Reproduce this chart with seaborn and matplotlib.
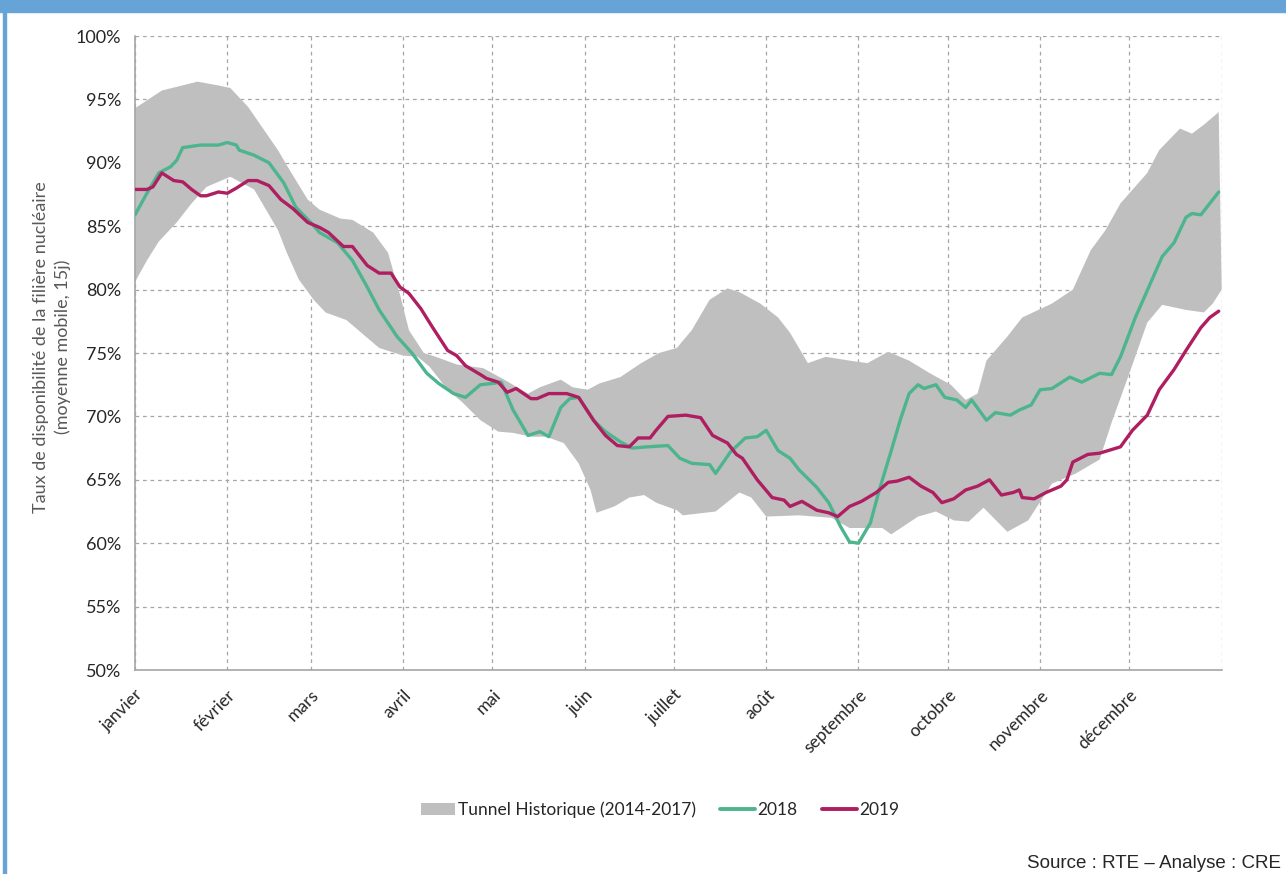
import numpy as np
import pandas as pd
import matplotlib.pyplot as plt
from matplotlib.patches import Patch, Rectangle
from matplotlib.lines import Line2D
import seaborn as sns

# jour de l'année (0 = 1er janvier) et taux de disponibilité (%)
haut_jour = [0, 9, 21, 28, 32, 38, 43, 48, 52, 58, 62, 69, 73, 80, 85, 89, 92, 97, 101, 108,
             117, 124, 132, 136, 143, 147, 152, 156, 163, 170, 176, 182, 187, 193, 199, 203,
             210, 216, 220, 226, 232, 240, 246, 253, 260, 267, 274, 279, 283, 286, 293, 298,
             308, 315, 321, 326, 331, 340, 344, 351, 355, 359, 364]
haut_val = [94.3, 95.7, 96.4, 96.1, 95.9, 94.4, 92.7, 91.0, 89.4, 87.1, 86.3, 85.6, 85.5, 84.5,
            82.9, 79.6, 76.8, 75.0, 74.7, 74.1, 73.8, 72.9, 71.8, 72.3, 72.9, 72.3, 72.1, 72.6,
            73.1, 74.2, 75.0, 75.4, 76.8, 79.2, 80.1, 79.8, 78.9, 77.8, 76.6, 74.2, 74.7, 74.4,
            74.2, 75.1, 74.4, 73.4, 72.5, 71.3, 71.8, 74.4, 76.3, 77.8, 78.9, 80.0, 83.1, 84.7,
            86.8, 89.2, 91.0, 92.7, 92.3, 93.0, 94.0]

bas_jour = [0, 4, 8, 14, 19, 24, 29, 32, 36, 40, 44, 48, 51, 55, 60, 64, 71, 76, 82, 90, 95,
            99, 105, 110, 116, 122, 127, 133, 138, 144, 149, 153, 155, 161, 166, 171, 175, 182,
            184, 195, 203, 207, 212, 223, 234, 240, 251, 254, 263, 269, 275, 280, 285, 293, 300,
            308, 316, 324, 328, 334, 340, 345, 353, 359, 362, 365]
bas_val = [80.6, 82.3, 83.8, 85.3, 86.8, 88.1, 88.6, 88.9, 88.4, 87.9, 86.3, 84.7, 82.9, 80.8,
           79.2, 78.2, 77.6, 76.6, 75.4, 74.8, 74.7, 73.9, 72.1, 71.1, 69.7, 68.8, 68.7, 68.4,
           68.4, 67.9, 66.3, 64.2, 62.4, 62.9, 63.6, 63.8, 63.2, 62.6, 62.2, 62.5, 64.0, 63.6,
           62.1, 62.2, 62.0, 61.2, 61.2, 60.7, 62.1, 62.5, 61.8, 61.7, 62.8, 60.9, 61.8, 64.7,
           65.5, 66.6, 69.5, 73.4, 77.4, 78.8, 78.4, 78.2, 78.9, 80.0]

j2018 = [0, 4, 8, 12, 14, 16, 22, 28, 31, 34, 35, 40, 45, 50, 54, 59, 62, 68, 73, 78, 82, 88,
         93, 98, 102, 107, 111, 116, 120, 123, 127, 132, 136, 139, 143, 146, 149, 154, 158,
         163, 167, 172, 179, 183, 187, 193, 195, 200, 205, 209, 212, 216, 220, 223, 229, 233,
         237, 240, 243, 247, 250, 254, 257, 260, 263, 265, 269, 272, 276, 279, 281, 286, 289,
         294, 297, 301, 304, 308, 314, 318, 324, 328, 331, 336, 342, 345, 349, 353, 355, 358,
         361, 364]
v2018 = [85.9, 87.6, 89.2, 89.7, 90.2, 91.2, 91.4, 91.4, 91.6, 91.4, 91.0, 90.6, 90.0, 88.4,
         86.5, 85.3, 84.5, 83.7, 82.3, 80.2, 78.4, 76.3, 75.0, 73.4, 72.6, 71.8, 71.5, 72.5,
         72.6, 72.7, 70.5, 68.5, 68.8, 68.4, 70.7, 71.4, 71.5, 69.7, 68.8, 68.0, 67.5, 67.6,
         67.7, 66.7, 66.3, 66.2, 65.5, 67.2, 68.3, 68.4, 68.9, 67.3, 66.7, 65.8, 64.4, 63.2,
         61.3, 60.1, 60.0, 61.6, 64.2, 67.3, 69.7, 71.8, 72.5, 72.2, 72.5, 71.5, 71.3, 70.7,
         71.3, 69.7, 70.3, 70.1, 70.5, 70.9, 72.1, 72.2, 73.1, 72.7, 73.4, 73.3, 74.7, 77.8,
         81.0, 82.6, 83.7, 85.7, 86.0, 85.9, 86.8, 87.7]

j2019 = [0, 4, 6, 9, 13, 16, 19, 22, 24, 28, 31, 34, 38, 41, 45, 49, 53, 58, 62, 65, 70, 73,
         78, 82, 86, 89, 92, 96, 100, 105, 108, 111, 116, 118, 122, 125, 128, 133, 135, 139,
         145, 149, 154, 158, 162, 166, 169, 173, 175, 179, 185, 190, 194, 199, 202, 204, 209,
         214, 218, 220, 224, 229, 233, 236, 240, 244, 249, 253, 256, 260, 264, 268, 271, 275,
         279, 283, 287, 291, 295, 297, 298, 302, 306, 311, 313, 315, 320, 324, 331, 335, 340,
         344, 349, 353, 358, 361, 364]
v2019 = [87.9, 87.9, 88.1, 89.2, 88.6, 88.5, 87.9, 87.4, 87.4, 87.7, 87.6, 88.0, 88.6, 88.6,
         88.2, 87.1, 86.4, 85.3, 84.9, 84.5, 83.4, 83.4, 81.9, 81.3, 81.3, 80.2, 79.7, 78.5,
         77.0, 75.2, 74.8, 74.0, 73.3, 73.0, 72.7, 71.9, 72.2, 71.4, 71.4, 71.8, 71.8, 71.5,
         69.7, 68.5, 67.7, 67.6, 68.3, 68.3, 68.9, 70.0, 70.1, 69.9, 68.5, 67.9, 67.0, 66.7,
         65.0, 63.6, 63.4, 62.9, 63.3, 62.6, 62.4, 62.1, 62.9, 63.3, 64.0, 64.8, 64.9, 65.2,
         64.5, 64.0, 63.2, 63.5, 64.2, 64.5, 65.0, 63.8, 64.0, 64.2, 63.6, 63.5, 64.0, 64.5,
         65.0, 66.4, 67.0, 67.1, 67.6, 68.9, 70.1, 72.1, 73.7, 75.2, 77.0, 77.8, 78.3]

mois = ["janvier", "février", "mars", "avril", "mai", "juin", "juillet", "août",
        "septembre", "octobre", "novembre", "décembre"]
debut_mois = [0, 31, 59, 90, 120, 151, 181, 212, 243, 273, 304, 334]

vert = "#4DB58E"
magenta = "#AE1E60"
gris = "#BFBFBF"

df = pd.concat([
    pd.DataFrame({"jour": j2018, "taux": v2018, "annee": "2018"}),
    pd.DataFrame({"jour": j2019, "taux": v2019, "annee": "2019"}),
])

sns.set_style("white")
plt.rcParams["font.family"] = ["Lato", "DejaVu Sans"]

fig = plt.figure(figsize=(12.86, 8.74), dpi=100)
ax = fig.add_axes([0.105, 0.2334, 0.845, 0.7254])

# tunnel historique
ax.fill(np.concatenate([haut_jour, bas_jour[::-1]]),
        np.concatenate([haut_val, bas_val[::-1]]),
        color=gris, lw=0, zorder=1)

sns.lineplot(data=df, x="jour", y="taux", hue="annee",
             palette={"2018": vert, "2019": magenta},
             lw=2.4, legend=False, ax=ax, zorder=3)

ax.set_xlim(0, 365)
ax.set_ylim(50, 100)
ax.set_xticks(debut_mois + [365])
ax.set_xticklabels(mois + [""], rotation=45, ha="right", rotation_mode="anchor",
                   fontsize=12.5, color="#262626")
ax.set_yticks(range(50, 101, 5))
ax.set_yticklabels([f"{v}%" for v in range(50, 101, 5)], fontsize=13, color="#262626")
ax.tick_params(axis="both", length=6, color="#A6A6A6", width=1, pad=4)
ax.tick_params(axis="x", pad=6)

ax.grid(True, ls=(0, (3, 3)), color="#A6A6A6", lw=0.9, zorder=0)
ax.set_axisbelow(True)
for s in ["top", "right"]:
    ax.spines[s].set_visible(False)
for s in ["left", "bottom"]:
    ax.spines[s].set_color("#A6A6A6")
    ax.spines[s].set_linewidth(1.2)

ax.set_xlabel("")
ax.set_ylabel("")
fig.text(52 / 1286, 1 - 347 / 874,
         "Taux de disponibilité de la filière nucléaire\n(moyenne mobile, 15j)",
         rotation=90, ha="center", va="center", fontsize=13, color="#595959",
         linespacing=1.35, multialignment="center")

handles = [Patch(facecolor=gris, edgecolor="none"),
           Line2D([], [], color=vert, lw=2.8),
           Line2D([], [], color=magenta, lw=2.8)]
fig.legend(handles, ["Tunnel Historique (2014-2017)", "2018", "2019"],
           loc="center", bbox_to_anchor=(660 / 1286, 1 - 810 / 874), ncol=3, frameon=False,
           fontsize=12.5, handlelength=2.0, handletextpad=0.15, columnspacing=1.4)

fig.text(1281 / 1286, 1 - 863 / 874, "Source : RTE – Analyse : CRE",
         fontsize=13.5, family="Liberation Sans", va="center", ha="right")

# bandeau bleu et bordure gauche
bleu = "#66A3D6"
fig.patches.append(Rectangle((0, 1 - 12 / 874), 1, 12 / 874, transform=fig.transFigure,
                             color=bleu, zorder=5))
fig.patches.append(Rectangle((3 / 1286, 0), 3 / 1286, 1, transform=fig.transFigure,
                             color=bleu, zorder=5))

fig.savefig("out.png", dpi=100)
